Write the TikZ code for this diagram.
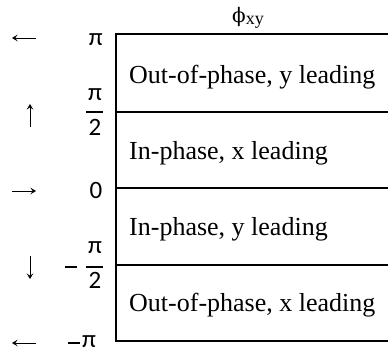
\documentclass[tikz,border=0pt]{standalone}
\usepackage{fontspec}
\setmainfont{Liberation Serif}
\newfontfamily\labfont{Carlito}
\newfontfamily\phifont{DejaVu Serif}
\usetikzlibrary{arrows.meta}
\begin{document}
\begin{tikzpicture}[x=1pt,y=-1pt,
  rowtext/.style={font=\fontsize{26}{30}\selectfont, anchor=base west, inner sep=0pt},
  lab/.style={font=\labfont\fontsize{25}{28}\selectfont, inner sep=0pt},
  arrw/.style={line width=0.9pt, -{Stealth[length=5.5pt,width=6.5pt,inset=2.2pt]}},
  rulel/.style={line width=2pt},
  barl/.style={line width=2pt}]
\useasboundingbox (0,0) rectangle (388,354);
% grid
\coordinate (L0) at (116,34);  \coordinate (R0) at (388,34);
\coordinate (L1) at (116,111.5); \coordinate (R1) at (388,111.5);
\coordinate (L2) at (116,188); \coordinate (R2) at (388,188);
\coordinate (L3) at (116,265); \coordinate (R3) at (388,265);
\coordinate (L4) at (116,341); \coordinate (R4) at (388,341);
\draw[rulel] (L0) -- (R0);
\draw[rulel] (L1) -- (R1);
\draw[rulel] (L2) -- (R2);
\draw[rulel] (L3) -- (R3);
\draw[rulel] (L4) -- (R4);
\draw[rulel] ([yshift=1pt]L0) -- ([yshift=-1pt]L4);
% header
\node[inner sep=0pt, anchor=base] (hdr) at (248,22)
  {{\phifont\fontsize{20}{24}\selectfont ϕ}\raisebox{-2pt}{\fontsize{18}{20}\selectfont xy}};
% row texts
\node[rowtext] (r1) at (129,83) {Out-of-phase, y leading};
\node[rowtext] (r2) at (129,159) {In-phase, x leading};
\node[rowtext] (r3) at (129,235) {In-phase, y leading};
\node[rowtext] (r4) at (129,311.5) {Out-of-phase, x leading};
% left labels
\node[lab, anchor=base east] (lpi) at (103,45.5) {π};
\node[lab, anchor=base] (n1) at (95,100.5) {π};
\coordinate (b1a) at (86,112); \coordinate (b1b) at (103,112);
\draw[barl] (b1a) -- (b1b);
\node[lab, anchor=base] (d1) at (95,135) {2};
\node[lab, anchor=base east] (l0) at (102.5,198.5) {0};
\node[inner sep=0pt] (m2) at (70.5,266.5) {\rule{12pt}{2pt}};
\node[lab, anchor=base] (n2) at (95,253.5) {π};
\coordinate (b2a) at (86,266.5); \coordinate (b2b) at (103,266.5);
\draw[barl] (b2a) -- (b2b);
\node[lab, anchor=base] (d2) at (95,288.5) {2};
\node[inner sep=0pt] (m3) at (74,342.5) {\rule{12pt}{2pt}};
\node[lab, anchor=base west] (lmpi) at (82,347.5) {π};
% arrows
\coordinate (a1s) at (36,38);  \coordinate (a1e) at (12,38);
\coordinate (a2s) at (30,127); \coordinate (a2e) at (30,104);
\coordinate (a3s) at (12,191); \coordinate (a3e) at (36,191);
\coordinate (a4s) at (30,256); \coordinate (a4e) at (30,279);
\coordinate (a5s) at (36,343); \coordinate (a5e) at (12,343);
\draw[arrw] (a1s) -- (a1e);
\draw[arrw] (a2s) -- (a2e);
\draw[arrw] (a3s) -- (a3e);
\draw[arrw] (a4s) -- (a4e);
\draw[arrw] (a5s) -- (a5e);
\end{tikzpicture}
\end{document}
